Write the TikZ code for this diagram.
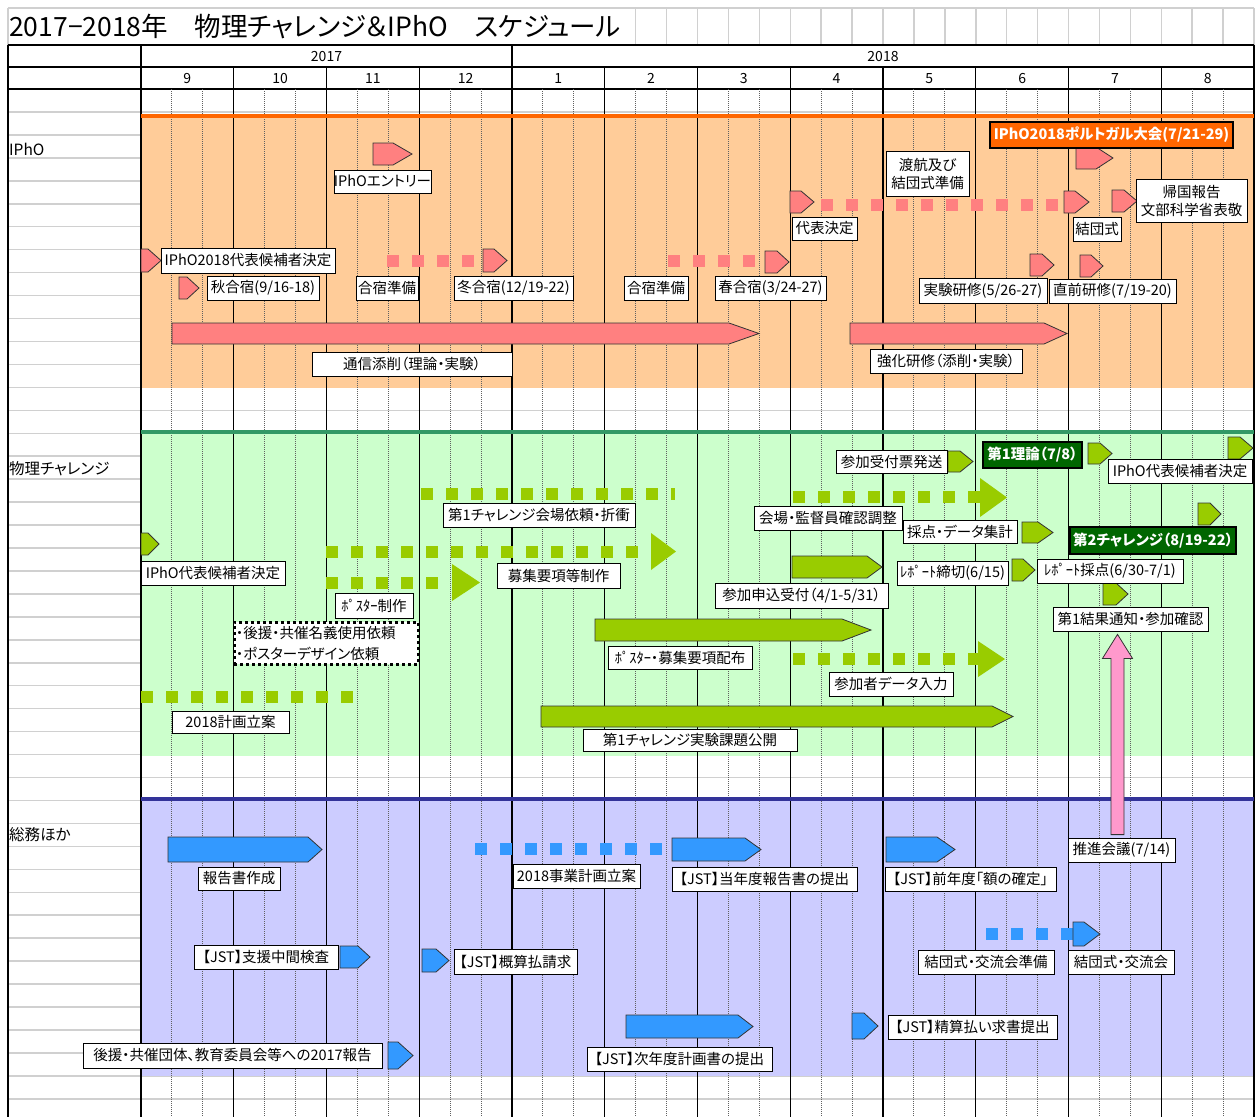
\documentclass[tikz,border=0pt]{standalone}
\usepackage{fontspec}
\setmainfont[RawFeature=+palt]{Noto Sans CJK JP}
\usetikzlibrary{calc}
\definecolor{orangeline}{HTML}{FF6600}
\definecolor{orangebg}{HTML}{FFCC99}
\definecolor{pinkfill}{HTML}{FF8080}
\definecolor{greenline}{HTML}{339966}
\definecolor{greenbg}{HTML}{CCFFCC}
\definecolor{greenfill}{HTML}{99CC00}
\definecolor{darkgreen}{HTML}{006600}
\definecolor{blueline}{HTML}{333399}
\definecolor{bluebg}{HTML}{CCCCFF}
\definecolor{bluefill}{HTML}{3399FF}
\definecolor{pinkup}{HTML}{FF99CC}
\definecolor{gridgray}{HTML}{D0D0D0}
\definecolor{dotgray}{HTML}{606060}
\tikzset{
  gridrow/.style={draw=gridgray,line width=1.5pt},
  hdrline/.style={draw=black,line width=1.5pt},
  monthline/.style={draw=black,line width=1.4pt},
  thirdline/.style={draw=dotgray,line width=0.9pt,dash pattern=on 1pt off 1pt},
  hdrtxt/.style={font=\fontsize{14}{16}\selectfont,inner sep=0pt},
  sectxt/.style={font=\fontsize{15.5}{17}\selectfont,inner sep=0pt,anchor=west},
  lblbox/.style={draw=black,fill=white,line width=0.8pt,inner sep=0pt,
    font=\fontsize{14.5}{18}\selectfont,align=center},
  orangelbl/.style={fill=orangeline,draw=black,line width=2.5pt,text=white,
    font=\fontsize{14.5}{16}\selectfont\bfseries},
  greenlbl/.style={fill=darkgreen,draw=black,line width=2.5pt,text=white,
    font=\fontsize{14.5}{16}\selectfont\bfseries},
  dotbox/.style={draw=black,line width=3pt,dash pattern=on 3pt off 3pt,align=left},
  pinkshape/.style={fill=pinkfill,draw=black!80,line width=0.8pt},
  greenshape/.style={fill=greenfill,draw=black!80,line width=0.8pt},
  blueshape/.style={fill=bluefill,draw=black!80,line width=0.8pt},
  upshape/.style={fill=pinkup,draw=black!80,line width=0.8pt},
  pinkdots/.style={draw=pinkfill,line width=12pt,dash pattern=on 12pt off 13pt},
  greendots/.style={draw=greenfill,line width=12pt,dash pattern=on 12pt off 13pt},
  bluedots/.style={draw=bluefill,line width=12pt,dash pattern=on 12pt off 13pt},
  greenhead/.style={fill=greenfill},
}
\newcommand\lb[7][]{\node[lblbox,#1,minimum width={#5pt-#3pt},minimum height={#6pt-#4pt}] (#2) at ({(#3+#5)/2},{(#4+#6)/2}) {#7};}
\newcommand\pa[6]{\draw[#6] (#1,#4) -- (#2,#4) -- (#3,{(#4+#5)/2}) -- (#2,#5) -- (#1,#5) -- cycle;}
\begin{document}
\begin{tikzpicture}[x=1pt,y=-1pt]
\useasboundingbox (0,0) rectangle (1256,1117);
\fill[white] (0,0) rectangle (1256,1117);
% spreadsheet rows
\foreach \k in {1,...,44} \draw[gridrow] (8,{89+22.95*\k}) -- (1254,{89+22.95*\k});
% title row cells
\draw[gridrow] (8,8) -- (1254,8);
\draw[gridrow] (8,8) -- (8,45);
\foreach \j in {16,...,36} \draw[gridrow] ({141+30.917*\j},8) -- ({141+30.917*\j},45);
% section backgrounds
\fill[orangebg] (141,116) rectangle (1254,388);
\fill[greenbg] (141,432) rectangle (1254,756);
\fill[bluebg] (141,799) rectangle (1254,1076);
% header lines
\draw[hdrline] (8,45) -- (1254,45);
\draw[hdrline] (8,67) -- (1254,67);
\draw[hdrline] (8,89) -- (1254,89);
\draw[hdrline] (8,45) -- (8,1117);
% vertical lines
\foreach \i in {0,...,11} {
  \draw[thirdline] ({141+92.75*\i+30.917},89) -- ({141+92.75*\i+30.917},1117);
  \draw[thirdline] ({141+92.75*\i+61.833},89) -- ({141+92.75*\i+61.833},1117);
}
\foreach \i in {1,2,3,5,6,7,8,9,10,11} \draw[monthline] ({141+92.75*\i},67) -- ({141+92.75*\i},1117);
\foreach \i in {0,4,12} \draw[monthline] ({141+92.75*\i},45) -- ({141+92.75*\i},1117);
% section lines
\draw[draw=orangeline,line width=4pt] (141,116) -- (1254,116);
\draw[draw=greenline,line width=4pt] (141,432) -- (1254,432);
\draw[draw=blueline,line width=4pt] (141,799) -- (1254,799);
% header texts
\node[anchor=west,inner sep=0pt,font=\fontsize{26.5}{30}\selectfont] (title) at (9,27) {2017−2018年　物理チャレンジ＆IPhO　スケジュール};
\node[hdrtxt] (y2017) at (326.5,57) {2017};
\node[hdrtxt] (y2018) at (883,57) {2018};
\foreach \m [count=\i from 0] in {9,10,11,12,1,2,3,4,5,6,7,8}
  \node[hdrtxt] (mon\i) at ({141+92.75*(\i+0.5)},78.5) {\m};
\node[sectxt] (secA) at (9,149) {IPhO};
\node[sectxt] (secB) at (9,469) {物理チャレンジ};
\node[sectxt] (secC) at (9,835) {総務ほか};
% ---------- IPhO ----------
\draw[pinkdots] (387,261) -- (474,261);
\draw[pinkdots] (668,261) -- (755,261);
\draw[pinkdots] (821,205) -- (1058,205);
\pa{373}{393}{412}{143}{165}{pinkshape}
\pa{141}{148}{161}{249}{272}{pinkshape}
\pa{179}{187}{199}{277}{299}{pinkshape}
\pa{483}{494}{507}{249}{272}{pinkshape}
\pa{765}{777}{789}{251}{273}{pinkshape}
\pa{790}{801}{814}{191}{213}{pinkshape}
\pa{1064}{1075}{1089}{191}{213}{pinkshape}
\pa{1112}{1124}{1137}{190}{212}{pinkshape}
\pa{1076}{1096}{1113}{147}{169}{pinkshape}
\pa{1030}{1042}{1054}{254}{276}{pinkshape}
\pa{1080}{1091}{1103}{255}{277}{pinkshape}
\pa{172}{729}{759}{323}{344}{pinkshape}
\pa{850}{1044}{1067}{323}{344}{pinkshape}
\lb{L1}{334}{170}{431}{193}{IPhOエントリー}
\lb{L2}{161}{248}{335}{273}{IPhO2018代表候補者決定}
\lb{L3}{207}{276}{319}{300}{秋合宿(9/16-18)}
\lb{L4}{356}{276}{418}{300}{合宿準備}
\lb{L5}{454}{276}{573}{300}{冬合宿(12/19-22)}
\lb{L6}{624}{276}{688}{300}{合宿準備}
\lb{L7}{715}{276}{826}{300}{春合宿(3/24-27)}
\lb{L8}{312}{352}{512}{376}{通信添削（理論・実験）}
\lb[orangelbl]{L9}{990}{122}{1233}{148}{IPhO2018ポルトガル大会(7/21-29)}
\lb{L10}{886}{151}{969}{196}{渡航及び\\結団式準備}
\lb{L11}{792}{217}{857}{240}{代表決定}
\lb{L12}{1073}{217}{1121}{241}{結団式}
\lb{L13}{1136}{179}{1247}{222}{帰国報告\\文部科学省表敬}
\lb{L14}{919}{278}{1047}{303}{実験研修(5/26-27)}
\lb{L15}{1049}{279}{1176}{303}{直前研修(7/19-20)}
\lb{L16}{870}{349}{1022}{373}{強化研修（添削・実験）}
% ---------- 物理チャレンジ ----------
\draw[greendots] (421,494) -- (675,494);
\draw[greendots] (326,552) -- (640,552);
\fill[greenhead] (651,533) -- (676,551.5) -- (651,570) -- cycle;
\draw[greendots] (326,583) -- (438,583);
\fill[greenhead] (452,564) -- (480,582.5) -- (452,601) -- cycle;
\draw[greendots] (141,697) -- (353,697);
\draw[greendots] (793,497) -- (980,497);
\fill[greenhead] (980,478) -- (1007,497.5) -- (980,517) -- cycle;
\draw[greendots] (793,659) -- (979,659);
\fill[greenhead] (978,641) -- (1005,659) -- (978,677) -- cycle;
\pa{141}{148}{159}{533}{555}{greenshape}
\pa{948}{960}{973}{451}{472}{greenshape}
\pa{1088}{1100}{1112}{443}{464}{greenshape}
\pa{1228}{1240}{1253}{437}{459}{greenshape}
\pa{1198}{1210}{1221}{503}{525}{greenshape}
\pa{1022}{1038}{1053}{522}{543}{greenshape}
\pa{1012}{1023}{1035}{559}{581}{greenshape}
\pa{1103}{1116}{1128}{583}{605}{greenshape}
\pa{792}{867}{882}{556}{578}{greenshape}
\pa{595}{842}{871}{619}{641}{greenshape}
\pa{541}{992}{1013}{706}{727}{greenshape}
\lb{G1}{141}{561}{285}{585}{IPhO代表候補者決定}
\lb{G2}{443}{503}{635}{527}{第1チャレンジ会場依頼・折衝}
\lb{G3}{497}{563}{620}{588}{募集要項等制作}
\lb{G4}{335}{593}{413}{618}{ﾎﾟｽﾀｰ制作}
\node[dotbox,fill=white,inner sep=0pt,minimum width=184pt,minimum height=42pt,text width=180pt,font=\fontsize{14.5}{21}\selectfont] (G5) at (326,643) {・後援・共催名義使用依頼\\・ポスターデザイン依頼};
\lb{G6}{172}{711}{289}{733}{2018計画立案}
\lb{G7}{836}{450}{947}{473}{参加受付票発送}
\lb[greenlbl]{G8}{983}{442}{1082}{468}{第1理論（7/8）}
\lb{G9}{1108}{459}{1252}{483}{IPhO代表候補者決定}
\lb{G10}{754}{506}{902}{530}{会場・監督員確認調整}
\lb{G11}{903}{520}{1017}{543}{採点・データ集計}
\lb[greenlbl]{G12}{1070}{527}{1236}{554}{第2チャレンジ（8/19-22）}
\lb{G13}{715}{583}{888}{608}{参加申込受付（4/1-5/31）}
\lb{G14}{897}{561}{1008}{585}{ﾚﾎﾟｰﾄ締切(6/15)}
\lb{G15}{1037}{559}{1183}{583}{ﾚﾎﾟｰﾄ採点(6/30-7/1)}
\lb{G16}{1053}{607}{1208}{631}{第1結果通知・参加確認}
\lb{G17}{608}{646}{752}{669}{ﾎﾟｽﾀｰ・募集要項配布}
\lb{G18}{829}{672}{953}{696}{参加者データ入力}
\lb{G19}{583}{729}{797}{751}{第1チャレンジ実験課題公開}
% ---------- 総務ほか ----------
\draw[bluedots] (475,849) -- (662,849);
\draw[bluedots] (986,934) -- (1073,934);
\pa{168}{308}{322}{837}{862}{blueshape}
\pa{672}{745}{761}{838}{861}{blueshape}
\pa{886}{937}{955}{837}{862}{blueshape}
\pa{626}{738}{753}{1015}{1038}{blueshape}
\pa{340}{358}{370}{946}{968}{blueshape}
\pa{422}{436}{449}{949}{972}{blueshape}
\pa{388}{398}{413}{1042}{1069}{blueshape}
\pa{852}{864}{878}{1013}{1039}{blueshape}
\pa{1073}{1084}{1100}{922}{946}{blueshape}
\lb{B1}{198}{867}{280}{890}{報告書作成}
\lb{B2}{513}{864}{640}{888}{2018事業計画立案}
\lb{B3}{672}{867}{857}{891}{【JST】当年度報告書の提出}
\lb{B4}{885}{867}{1056}{891}{【JST】前年度「額の確定」}
\lb{B5}{1068}{838}{1175}{862}{推進会議(7/14)}
\lb{B6}{194}{945}{338}{969}{【JST】支援中間検査}
\lb{B7}{454}{949}{577}{974}{【JST】概算払請求}
\lb{B8}{918}{950}{1054}{974}{結団式・交流会準備}
\lb{B9}{1068}{950}{1174}{974}{結団式・交流会}
\lb{B10}{83}{1043}{382}{1068}{後援・共催団体、教育委員会等への2017報告}
\lb{B11}{587}{1047}{772}{1071}{【JST】次年度計画書の提出}
\lb{B12}{888}{1015}{1057}{1039}{【JST】精算払い求書提出}
% ---------- 推進会議 -> 第1結果通知 ----------
\coordinate (upB) at (B5.north -| 1117.5,0);
\coordinate (upT) at (G16.south -| 1117.5,0);
\draw[upshape] ($(upB)+(-6.5,-3)$) -- ($(upT)+(-6.5,27)$) -- ($(upT)+(-15,27)$) -- ($(upT)+(0,3)$) -- ($(upT)+(15,27)$) -- ($(upT)+(6.5,27)$) -- ($(upB)+(6.5,-3)$) -- cycle;
\end{tikzpicture}
\end{document}
